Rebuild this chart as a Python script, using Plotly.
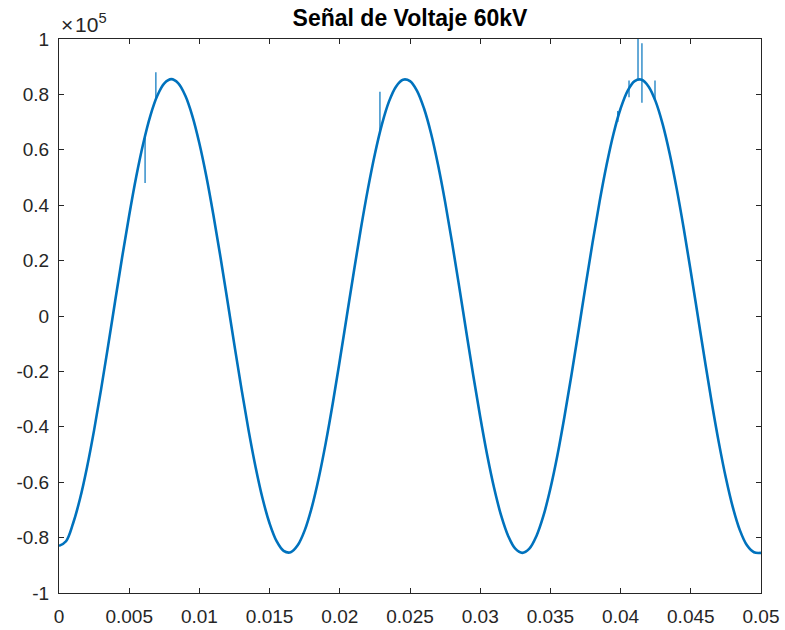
import plotly.graph_objects as go

# Time samples (s) and voltage samples (V)
t_step = 0.0005
v_base = [
    -83000, -81300, -74900, -65900, -54500, -41200, -26400, -10700, 5400, 21300,
    36400, 50300, 62300, 72200, 79500, 84000, 85500, 84000, 79500, 72200,
    62300, 50300, 36400, 21300, 5400, -10700, -26400, -41200, -54500, -65900,
    -74900, -81300, -84800, -85300, -82800, -77400, -69200, -58500, -45800, -31500,
    -16000, 0, 16000, 31500, 45800, 58500, 69200, 77400, 82800, 85300,
    84800, 81300, 74900, 65900, 54500, 41200, 26400, 10700, -5400, -21300,
    -36400, -50300, -62300, -72200, -79500, -84000, -85500, -84000, -79500, -72200,
    -62300, -50300, -36400, -21300, -5400, 10700, 26400, 41200, 54500, 65900,
    74900, 81300, 84800, 85300, 82800, 77400, 69200, 58500, 45800, 31500,
    16000, 0, -16000, -31500, -45800, -58500, -69200, -77400, -82800, -85300,
    -85500,
]
t_base = [round(i * t_step, 6) for i in range(len(v_base))]

# Transient spikes: time, start value, end value (V)
spike_t = [0.00613, 0.0069, 0.02286, 0.0398, 0.0406, 0.04124, 0.04152, 0.04245]
spike_from = [65000, 78000, 66500, 70000, 79000, 85500, 77000, 78000]
spike_to = [48000, 88000, 81000, 74000, 85000, 102000, 98500, 85000]

y_ticks = [-100000, -80000, -60000, -40000, -20000, 0, 20000, 40000, 60000, 80000, 100000]
y_labels = ["-1", "-0.8", "-0.6", "-0.4", "-0.2", "0", "0.2", "0.4", "0.6", "0.8", "1"]
x_ticks = [0, 0.005, 0.01, 0.015, 0.02, 0.025, 0.03, 0.035, 0.04, 0.045, 0.05]
x_labels = ["0", "0.005", "0.01", "0.015", "0.02", "0.025", "0.03", "0.035", "0.04", "0.045", "0.05"]

color = "#0072BD"
font_family = "Liberation Sans, Arial, sans-serif"

sx, sy = [], []
for t, a, b in zip(spike_t, spike_from, spike_to):
    sx += [t, t, None]
    sy += [a, b, None]

fig = go.Figure()
fig.add_trace(go.Scatter(x=t_base, y=v_base, mode="lines",
                         line=dict(color=color, width=2.6, shape="spline", smoothing=1),
                         showlegend=False, hoverinfo="skip"))
fig.add_trace(go.Scatter(x=sx, y=sy, mode="lines",
                         line=dict(color=color, width=1.2),
                         showlegend=False, hoverinfo="skip"))

axis_common = dict(
    showline=True, linecolor="#262626", linewidth=1, mirror="ticks",
    ticks="inside", ticklen=5, tickwidth=1, tickcolor="#262626",
    showgrid=False, zeroline=False, automargin=False,
    tickfont=dict(family=font_family, size=19, color="#262626"),
)

fig.update_xaxes(range=[0, 0.05], tickvals=x_ticks, ticktext=x_labels,
                 ticklabelstandoff=6, **axis_common)
fig.update_yaxes(range=[-100000, 100000], tickvals=y_ticks, ticktext=y_labels,
                 ticklabelstandoff=5, **axis_common)

fig.update_layout(
    width=785, height=630,
    margin=dict(l=59, r=24, t=39, b=37, autoexpand=False),
    paper_bgcolor="white", plot_bgcolor="white",
    title=dict(text="<b>Señal de Voltaje 60kV</b>", x=410 / 785, xanchor="center",
               y=1 - 18 / 630, yanchor="middle",
               font=dict(family=font_family, size=23, color="#000000")),
    annotations=[dict(text="×\u200a10<sup>5</sup>", xref="paper", yref="paper", x=0, y=1,
                      xanchor="left", yanchor="bottom", yshift=1, showarrow=False,
                      font=dict(family=font_family, size=21, color="#262626"))],
)

fig.write_html("out.html")
